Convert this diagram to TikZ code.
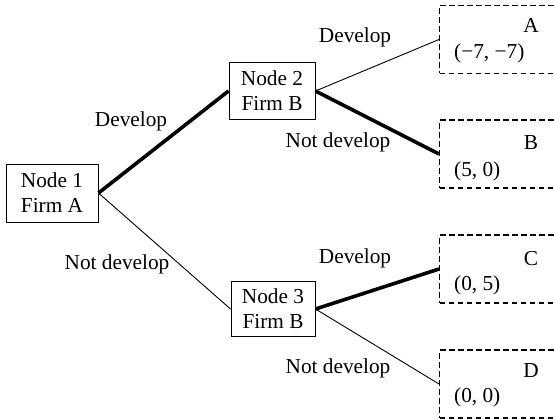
\documentclass[tikz,border=0pt]{standalone}
\usepackage{fontspec}
\setmainfont{Liberation Serif}
\usetikzlibrary{positioning}
\newcommand{\gameFont}[0]{\fontsize{21.3}{25}\selectfont}

\begin{document}
\begin{tikzpicture}[x=1pt, y=-1pt, font=\gameFont]
  \tikzset{decision/.style={draw, line width=1pt, align=center, inner sep=0pt, minimum width=86pt, minimum height=56pt},
    outcome/.style={draw, dash pattern=on 5.5pt off 3.5pt, line width=1.1pt, minimum width=131pt, minimum height=68pt, anchor=west},
    move/.style={line width=0.9pt},
    chosen/.style={line width=3.6pt},
    payoff/.style={anchor=base west, inner sep=0pt},
    player/.style={anchor=base, inner sep=0pt}}
  \useasboundingbox (0,0) rectangle (554,420);
  \clip (0,0) rectangle (554,420);
  % decision nodes
  \node[decision, minimum width=92pt, minimum height=58pt] (N-1) at (52,193) {Node 1\\Firm A};
  \node[decision] (N-2) at (272,91) {Node 2\\Firm B};
  \node[decision, minimum width=84pt, minimum height=55pt] (N-3) at (273,309) {Node 3\\Firm B};
  % outcomes
  \node[outcome] (T-A) at (439,39.5) {};
  \node[outcome] (T-B) at (439,154) {};
  \node[outcome] (T-C) at (439,269) {};
  \node[outcome] (T-D) at (439,384) {};
  \node[player] (L-A) at (531,33) {A};
  \node[player] (L-B) at (531,149) {B};
  \node[player] (L-C) at (531,265) {C};
  \node[player] (L-D) at (531,377) {D};
  \node[payoff] (P-A) at (454,59) {(−7, −7)};
  \node[payoff] (P-B) at (454,176.5) {(5, 0)};
  \node[payoff] (P-C) at (454,290.5) {(0, 5)};
  \node[payoff] (P-D) at (454,402.5) {(0, 0)};
  % moves
  \node[player] (M-1-1) at (131,126) {Develop};
  \node[player] (M-1-2) at (117,269) {Not develop};
  \node[player] (M-2-1) at (355,43) {Develop};
  \node[player] (M-2-2) at (338,147) {Not develop};
  \node[player] (M-3-1) at (355,263) {Develop};
  \node[player] (M-3-2) at (338,373) {Not develop};
  \draw[chosen] (N-1.east) -- (N-2.west);
  \draw[move] (N-1.east) -- (N-3.west);
  \draw[move] (N-2.east) -- (T-A.west);
  \draw[chosen] (N-2.east) -- (T-B.west);
  \draw[chosen] (N-3.east) -- (T-C.west);
  \draw[move] (N-3.east) -- (T-D.west);
\end{tikzpicture}
\end{document}
